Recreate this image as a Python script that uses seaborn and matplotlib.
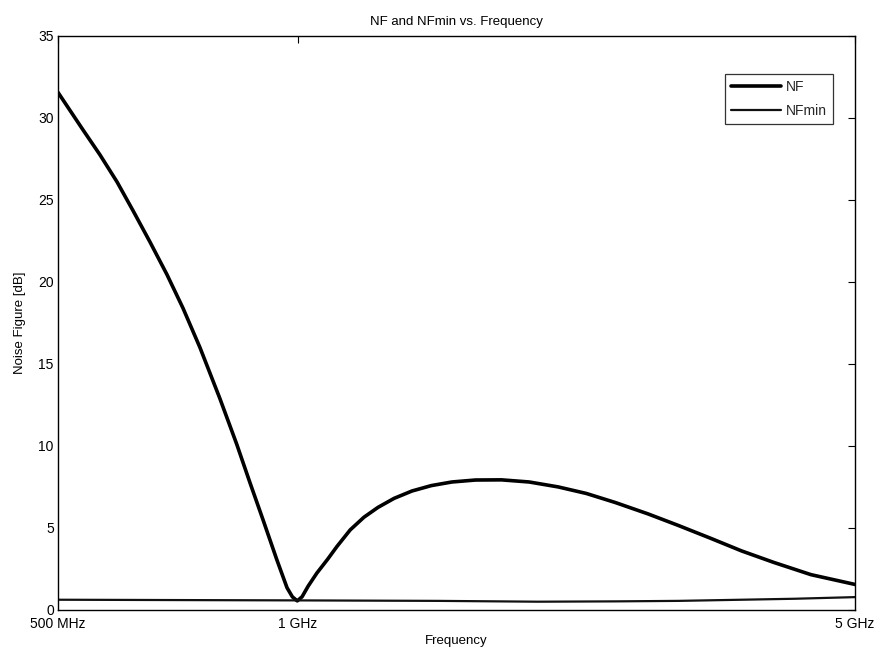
import numpy as np
import pandas as pd
import matplotlib
matplotlib.use('Agg')
import matplotlib.pyplot as plt
import seaborn as sns

# frequencies in GHz, NF values in dB
nf_freq = np.array([0.500, 0.537, 0.5645, 0.593, 0.621, 0.652, 0.685, 0.7175, 0.7535, 0.798,
                    0.838, 0.870, 0.904, 0.941, 0.969, 0.984, 0.998, 1.012, 1.03, 1.056, 1.09,
                    1.119, 1.163, 1.21, 1.26, 1.32, 1.39, 1.47, 1.56, 1.67, 1.80,
                    1.95, 2.12, 2.30, 2.50, 2.75, 3.00, 3.30, 3.60, 3.95, 4.40, 5.00])
nf_db = np.array([31.56, 29.3, 27.75, 26.1, 24.35, 22.45, 20.45, 18.4, 16.0, 12.9,
                  10.1, 7.8, 5.5, 3.05, 1.35, 0.8, 0.55, 0.8, 1.45, 2.24, 3.1,
                  3.86, 4.88, 5.65, 6.25, 6.8, 7.25, 7.58, 7.8, 7.92, 7.93,
                  7.8, 7.5, 7.1, 6.55, 5.85, 5.15, 4.35, 3.6, 2.9, 2.15, 1.55])

nfmin_freq = np.array([0.5, 0.7, 1.0, 1.5, 2.0, 2.5, 3.0, 3.6, 4.2, 5.0])
nfmin_db = np.array([0.62, 0.6, 0.58, 0.55, 0.5, 0.52, 0.55, 0.62, 0.68, 0.78])

xtick_pos = [0.5, 1.0, 5.0]
xtick_labels = ['500 MHz', '1 GHz', '5 GHz']

sns.set_theme(style='white')
plt.rcParams['font.family'] = ['Liberation Sans', 'DejaVu Sans']

fig = plt.figure(figsize=(8.78, 6.53), dpi=100)
ax = fig.add_axes([0.066, 0.066, 0.908, 0.879])

df_nf = pd.DataFrame({'freq': nf_freq * 1e9, 'val': nf_db})
df_min = pd.DataFrame({'freq': nfmin_freq * 1e9, 'val': nfmin_db})
sns.lineplot(data=df_nf, x='freq', y='val', ax=ax, color='black', linewidth=2.6, label='NF')
sns.lineplot(data=df_min, x='freq', y='val', ax=ax, color='#111111', linewidth=1.6, label='NFmin')

ax.set_xscale('log')
ax.set_xlim(500e6, 5e9)
ax.set_ylim(0, 35)
ax.set_xticks([p * 1e9 for p in xtick_pos])
ax.set_xticklabels(xtick_labels)
ax.xaxis.set_minor_locator(matplotlib.ticker.NullLocator())
ax.set_yticks(np.arange(0, 36, 5))
ax.tick_params(axis='both', which='both', direction='in', top=True, right=True,
               length=5, width=0.8, color='black', labelsize=10, labelcolor='black')
ax.tick_params(axis='x', pad=5)
ax.tick_params(axis='y', pad=3)
for s in ax.spines.values():
    s.set_color('black')
    s.set_linewidth(1.0)

ax.set_xlabel('Frequency', fontsize=9.5, labelpad=3, color='black')
ax.set_ylabel('Noise Figure [dB]', fontsize=9.5, labelpad=9, color='black')
ax.set_title('NF and NFmin vs. Frequency', fontsize=9.5, pad=8, color='black')

leg = ax.legend(loc='upper right', bbox_to_anchor=(0.972, 0.934), fontsize=10,
                frameon=True, fancybox=False, edgecolor='black', handlelength=3.6,
                borderpad=0.45, labelspacing=0.7, handletextpad=0.3, borderaxespad=0)
leg.get_frame().set_linewidth(0.9)

fig.savefig('out.png', dpi=100)
